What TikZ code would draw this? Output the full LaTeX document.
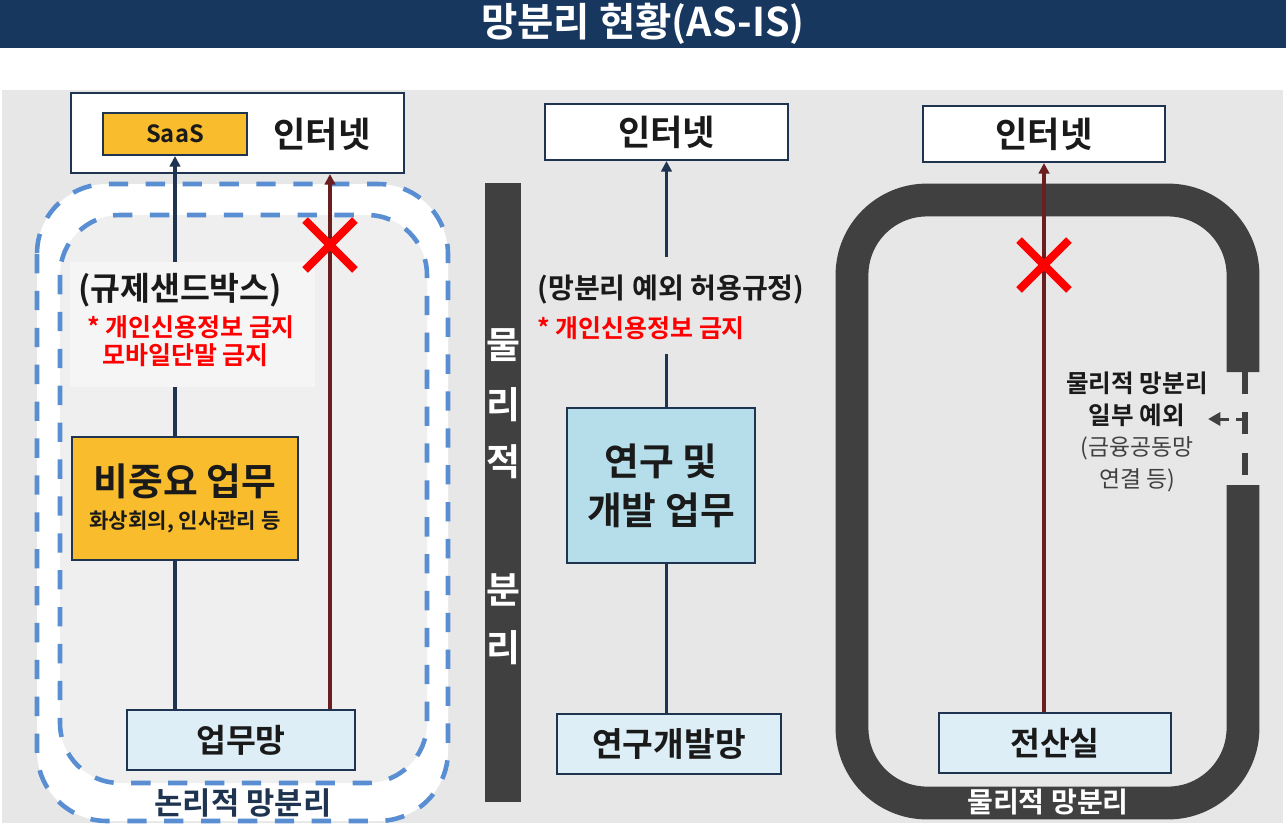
\documentclass[tikz,border=0pt]{standalone}
\usepackage{fontspec}
\setmainfont{Noto Sans CJK KR}[BoldFont={Noto Sans CJK KR Bold}]
\usepackage{tikz}
\usetikzlibrary{arrows.meta,shapes.misc}
\definecolor{NSTitle}{HTML}{17375E}
\definecolor{NSBack}{HTML}{E7E7E7}
\definecolor{NSInner}{HTML}{EFEFEF}
\definecolor{NSNote}{HTML}{F5F5F5}
\definecolor{NSDash}{HTML}{5A8ED2}
\definecolor{NSYellow}{HTML}{F8BC2C}
\definecolor{NSNavy}{HTML}{1F3450}
\definecolor{NSPale}{HTML}{DDEEF6}
\definecolor{NSBlue}{HTML}{B5DDEA}
\definecolor{NSMaroon}{HTML}{6A1E20}
\definecolor{NSRed}{HTML}{FF0000}
\definecolor{NSDark}{HTML}{404040}
\definecolor{NSInk}{HTML}{1A1A1A}

\begin{document}
\begin{tikzpicture}[x=0.02cm,y=-0.02cm,
  nsbox/.style={draw=NSNavy,line width=1.2pt,inner sep=0pt,text=NSInk},
  navyline/.style={NSNavy,line width=1.8pt},
  maroonline/.style={NSMaroon,line width=1.8pt},
  headup/.style={-{Triangle[length=6pt,width=6pt]}},
  zonedash/.style={NSDash,line width=2.6pt,dash pattern=on 11pt off 10pt},
  nogo/.style={draw=NSRed,line width=4.5pt,cross out,minimum size=0.84cm,inner sep=0pt},
  netfont/.style={font=\fontsize{20}{23}\selectfont\bfseries,text=NSInk},
  lanfont/.style={font=\fontsize{18.5}{21}\selectfont\bfseries},
  warnfont/.style={font=\fontsize{14.2}{16}\selectfont\bfseries,text=NSRed,anchor=west,inner sep=0pt}]
\path[use as bounding box] (0,0) rectangle (1286,826);
\fill[NSBack] (2,90) rectangle (1283,823);
\fill[NSTitle] (0,0) rectangle (1286,48);
\node[font=\fontsize{22.5}{26}\selectfont\bfseries,text=white] (title) at (643,24) {망분리 현황(AS-IS)};

% logical separation
\draw[zonedash,fill=white,rounded corners=1.4cm] (37,184) rectangle (448,821);
\draw[zonedash,fill=NSInner,rounded corners=1.2cm] (60,215) rectangle (427,783);
\node[fill=NSNote,minimum width=4.9cm,minimum height=2.5cm] (note) at (192.5,324.5) {};
\node[font=\fontsize{18.5}{21}\selectfont\bfseries,text=NSInk] (sandbox) at (180,290) {(규제샌드박스)};
\node[warnfont] (ban1) at (87,327) {* 개인신용정보 금지};
\node[warnfont] (ban2) at (102,355) {모바일단말 금지};

\node[nsbox,fill=white,minimum width=6.66cm,minimum height=1.6cm] (inet1) at (237.5,133) {};
\node[nsbox,fill=NSYellow,minimum width=2.88cm,minimum height=0.84cm,font=\fontsize{13.5}{15}\selectfont\bfseries] (saas) at (175,134) {SaaS};
\node[netfont] (inettxt1) at (322,134) {인터넷};
\node[nsbox,fill=NSYellow,minimum width=4.52cm,minimum height=2.46cm,align=center,font=\fontsize{12}{18.5}\selectfont\bfseries] (biz) at (185,498.5)
  {{\fontsize{21.5}{23}\selectfont 비중요 업무}\\화상회의, 인사관리 등};
\node[nsbox,fill=NSPale,minimum width=4.56cm,minimum height=1.2cm,lanfont] (net1) at (241,740) {업무망};

\draw[navyline] (saas.south |- biz.north) -- (saas.south |- note.south);
\draw[navyline,headup] (saas.south |- note.north) -- (saas.south);
\draw[navyline] (saas.south |- biz.south) -- (saas.south |- net1.north);
\coordinate (cutL) at (330,245);
\draw[maroonline,headup] (net1.north -| cutL) -- (inet1.south -| cutL);
\node[nogo] (xL) at (cutL) {};
\node[font=\fontsize{17.5}{20}\selectfont\bfseries,text=NSNavy] (lzone) at (243,803) {논리적 망분리};

% physical separation bar
\fill[NSDark] (485,183) rectangle (521,802);
\foreach \ch/\yy [count=\i] in {물/345,리/405,적/462,분/590,리/648}
  \node[font=\fontsize{21}{23}\selectfont\bfseries,text=white] (sep\i) at (503,\yy) {\ch};

% research network
\node[nsbox,fill=white,minimum width=4.86cm,minimum height=1.12cm,netfont] (inet2) at (666.5,132) {인터넷};
\node[font=\fontsize{16}{19}\selectfont\bfseries,text=NSInk,inner ysep=10pt] (exc) at (671,290) {(망분리 예외 허용규정)};
\node[warnfont] (ban3) at (537,328) {* 개인신용정보 금지};
\node[nsbox,fill=NSBlue,minimum width=3.76cm,minimum height=3.1cm,align=center,font=\fontsize{21.5}{28}\selectfont\bfseries] (rnd) at (661,485.5) {연구 및\\개발 업무};
\node[nsbox,fill=NSPale,minimum width=4.48cm,minimum height=1.2cm,font=\fontsize{19}{22}\selectfont\bfseries] (rndnet) at (669,744) {연구개발망};

\draw[navyline,headup] (inet2.south |- exc.north) -- (inet2.south);
\draw[navyline] (inet2.south |- rnd.north) -- ([yshift=-8pt]inet2.south |- ban3.south);
\draw[navyline] (inet2.south |- rnd.south) -- (inet2.south |- rndnet.north);

% computer room
\draw[NSDark,line width=18.7pt,rounded corners=1.5cm] (1243,372) -- (1243,200) -- (852,200) -- (852,803) -- (1243,803) -- (1243,485);
\draw[NSDark,line width=3pt,dash pattern=on 12.5pt off 10.5pt] (1245,372) -- (1245,485);
\node[nsbox,fill=white,minimum width=4.84cm,minimum height=1.12cm,netfont] (inet3) at (1044,134) {인터넷};
\node[nsbox,fill=NSPale,minimum width=4.64cm,minimum height=1.2cm,lanfont] (dc) at (1055,743) {전산실};
\coordinate (cutR) at (1045,265);
\draw[maroonline,headup] (inet3.south |- dc.north) -- (inet3.south);
\node[nogo] (xR) at (cutR -| inet3.south) {};
\node[align=center,inner sep=0pt,font=\fontsize{13}{18}\selectfont,text=NSInk] (xnote) at (1137,432)
  {{\bfseries\fontsize{14}{18}\selectfont 물리적 망분리}\\{\bfseries\fontsize{14}{18}\selectfont 일부 예외}\\{\color{NSDark}(금융공동망}\\{\color{NSDark}연결 등)}};
\coordinate (gapmid) at (1245,419);
\draw[NSDark,line width=1.7pt,dash pattern=on 5pt off 4pt,-{Triangle[length=7pt,width=7.5pt]}] (gapmid) -- (xnote.east |- gapmid);
\node[font=\fontsize{16}{19}\selectfont\bfseries,text=white] (pzone) at (1048,802) {물리적 망분리};
\end{tikzpicture}
\end{document}
